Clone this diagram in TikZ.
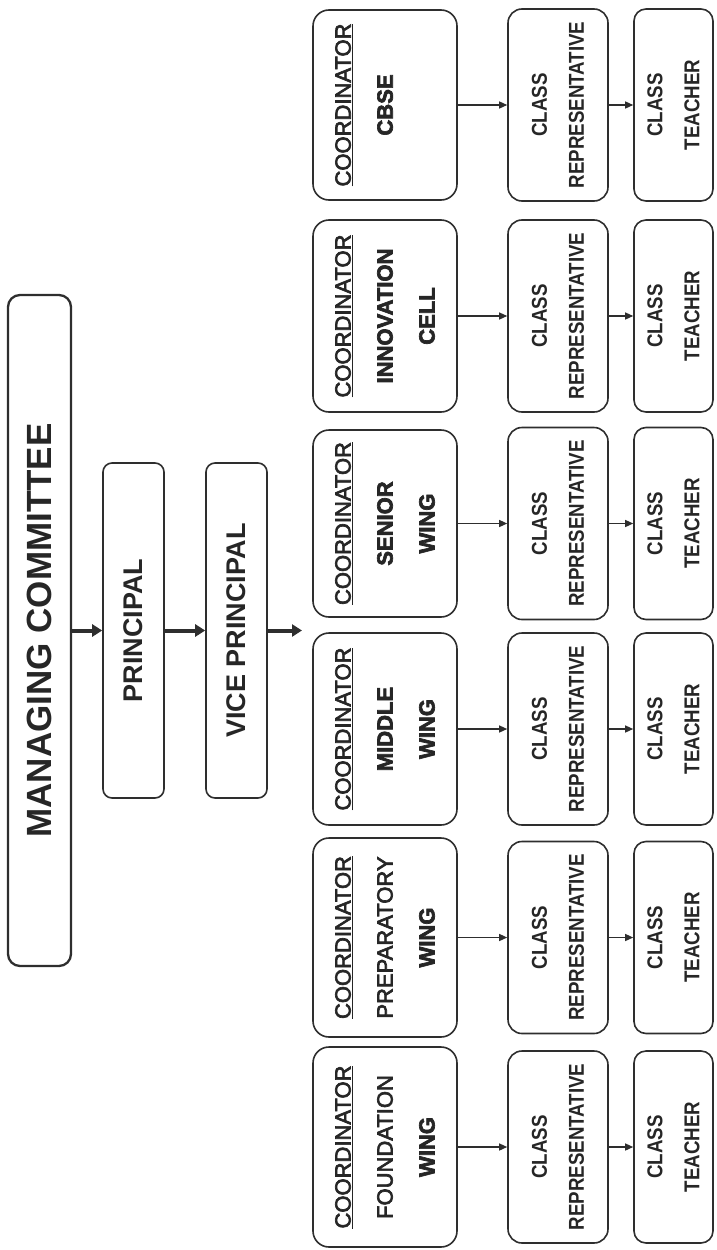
\documentclass[tikz,border=0pt]{standalone}
\usepackage{fontspec}
\setmainfont{Liberation Sans}
\newfontfamily\condfont{Liberation Sans}[FakeStretch=0.87]
\newfontfamily\medfont{Liberation Sans}[FakeBold=3]
\usetikzlibrary{arrows.meta}
\definecolor{linec}{HTML}{2E2E2E}
\definecolor{textc}{HTML}{262626}
\begin{document}
\begin{tikzpicture}[x=1pt,y=-1pt,
  box/.style={draw=linec, line width=1.6pt, rotate=90, inner sep=0pt, align=center, text=textc, fill=white},
  topbox/.style={box, rounded corners=9pt, minimum width=335, minimum height=61, font={\bfseries\fontsize{27}{32}\selectfont}},
  coordbox/.style={box, rounded corners=16pt, minimum height=144, font={\medfont\fontsize{22}{42}\selectfont}},
  repbox/.style={box, rounded corners=14pt, minimum width=192, minimum height=100, font={\condfont\bfseries\fontsize{21.5}{37}\selectfont}},
  teachbox/.style={box, rounded corners=12pt, minimum width=192, minimum height=79, font={\condfont\bfseries\fontsize{21.5}{37}\selectfont}},
  bigarrow/.style={draw=linec, line width=4pt, -{Triangle[length=10pt,width=12pt]}},
  smallarrow/.style={draw=linec, line width=1.3pt, -{Triangle[length=8pt,width=7pt]}}
]
\useasboundingbox (0,0) rectangle (716,1250);

\node[box, line width=2.3pt, rounded corners=12pt, minimum width=671, minimum height=63,
      font={\bfseries\fontsize{35}{40}\selectfont}] (mc) at (39.5,630.5) {MANAGING COMMITTEE};
\node[topbox] (pr) at (133.5,630.5) {PRINCIPAL};
\node[topbox] (vp) at (236.5,630.5) {VICE PRINCIPAL};
\coordinate (vpend) at (302,630.5);

\draw[bigarrow] (mc.south) -- (pr.north);
\draw[bigarrow] (pr.south) -- (vp.north);
\draw[bigarrow] (vp.south) -- (vpend);

\foreach \i/\cy/\ch/\txt in {
  1/105/190/{\textbf{CBSE}\\ \mbox{}},
  2/316/192/{\textbf{INNOVATION}\\ \textbf{CELL}},
  3/523.5/187/{\textbf{SENIOR}\\ \textbf{WING}},
  4/729/192/{\textbf{MIDDLE}\\ \textbf{WING}},
  5/937.5/199/{PREPARATORY\\ \textbf{WING}},
  6/1147/200/{FOUNDATION\\ \textbf{WING}}}{
  \node[coordbox, minimum width=\ch] (c\i) at (385,\cy) {\underline{COORDINATOR}\\ \txt};
  \node[repbox] (r\i) at (558,\cy) {CLASS\\ REPRESENTATIVE};
  \node[teachbox] (t\i) at (673.5,\cy) {CLASS\\ TEACHER};
  \draw[smallarrow] (c\i.south) -- (r\i.north);
  \draw[smallarrow] (r\i.south) -- (t\i.north);
}
\end{tikzpicture}
\end{document}
